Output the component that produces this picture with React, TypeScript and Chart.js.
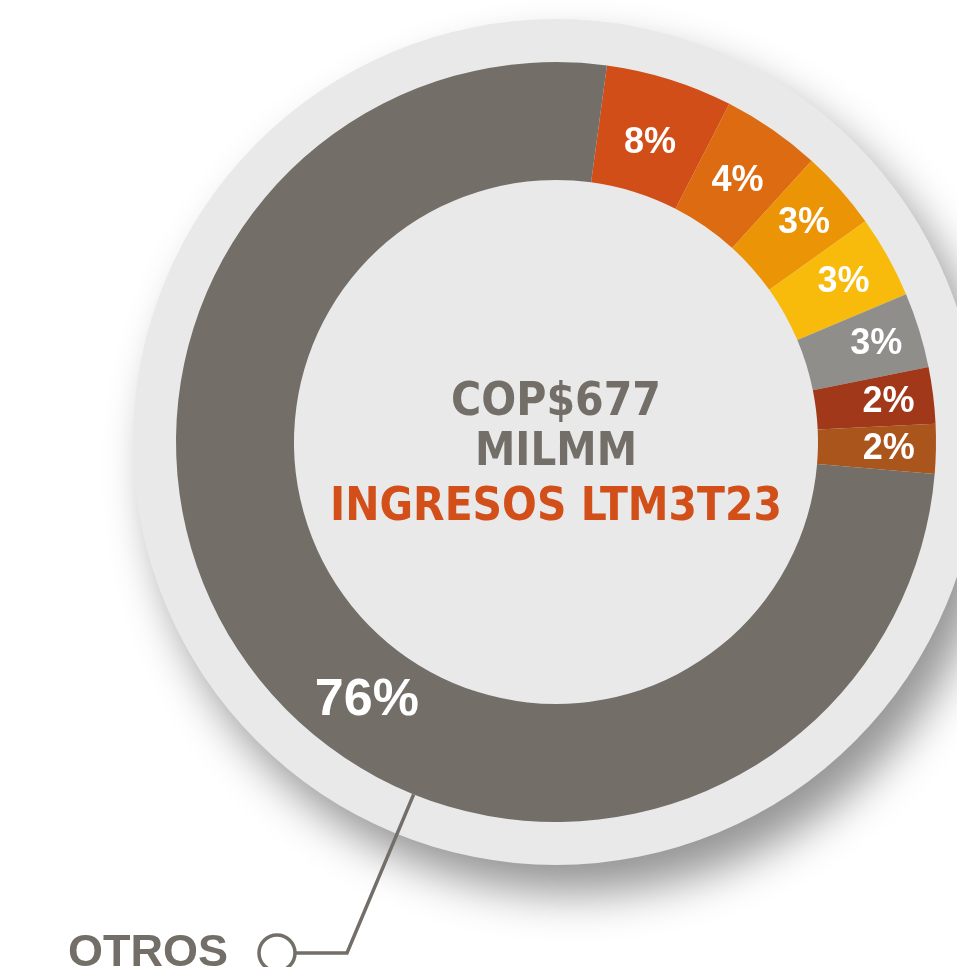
import React, { useEffect, useRef } from 'react';
import { Chart, registerables } from 'chart.js';

Chart.register(...registerables);

// ---- data ----
const categories = ['Segmento 1', 'Segmento 2', 'Segmento 3', 'Segmento 4', 'Segmento 5', 'Segmento 6', 'Segmento 7', 'OTROS'];
// shares as drawn in the picture (arc sizes)
const shareValues = [5.4, 4.2, 3.4, 3.5, 3.2, 2.4, 2.1, 75.8];
// printed percentages
const shareLabels = ['8%', '4%', '3%', '3%', '3%', '2%', '2%', '76%'];
const centerLines = ['COP$677', 'MILMM', 'INGRESOS LTM3T23'];
const calloutLabel = 'OTROS';

// ---- styles ----
const sliceColors = ['#d24e18', '#dc6b12', '#eb9406', '#f8bb0c', '#8f8e8b', '#a1381a', '#a9551c', '#736e68'];
const labelRadialFrac = [0.44, 0.48, 0.59, 0.57, 0.62, 0.62, 0.6, 0.49];
const FONT = '"Liberation Sans", Arial, Helvetica, sans-serif';
const CENTER_FONT = '"DejaVu Sans", "Liberation Sans", Arial, sans-serif';
const GREY_TEXT = '#736e68';
const ORANGE_TEXT = '#d24f1a';

const decorPlugin = {
  id: 'decor',
  beforeDatasetsDraw(chart: any) {
    const { ctx, chartArea } = chart;
    const cx = (chartArea.left + chartArea.right) / 2;
    const cy = (chartArea.top + chartArea.bottom) / 2;
    const arc = chart.getDatasetMeta(0).data[0];
    const R = arc.outerRadius * 1.113;
    ctx.save();
    ctx.shadowColor = 'rgba(0,0,0,0.42)';
    ctx.shadowBlur = 45;
    ctx.shadowOffsetX = 18;
    ctx.shadowOffsetY = 28;
    ctx.fillStyle = '#e9e9e9';
    ctx.beginPath();
    ctx.arc(cx, cy, R, 0, Math.PI * 2);
    ctx.fill();
    ctx.restore();
  },
  afterDatasetsDraw(chart: any) {
    const { ctx, chartArea } = chart;
    const cx = (chartArea.left + chartArea.right) / 2;
    const cy = (chartArea.top + chartArea.bottom) / 2;
    const meta = chart.getDatasetMeta(0);
    ctx.save();
    // slice labels
    meta.data.forEach((el: any, i: number) => {
      const { startAngle, endAngle, innerRadius, outerRadius, x, y } = el.getProps(
        ['startAngle', 'endAngle', 'innerRadius', 'outerRadius', 'x', 'y'],
        true
      );
      const big = i === meta.data.length - 1;
      const mid = (startAngle + endAngle) / 2 + (big ? (-15 * Math.PI) / 180 : 0);
      const r = innerRadius + (outerRadius - innerRadius) * labelRadialFrac[i];
      ctx.fillStyle = '#ffffff';
      ctx.font = `bold ${big ? 52 : 36}px ${FONT}`;
      ctx.textAlign = 'center';
      ctx.textBaseline = 'middle';
      ctx.fillText(shareLabels[i], x + r * Math.cos(mid), y + r * Math.sin(mid) + 1);
    });

    // center text (wide heavy face, slightly stretched vertically)
    const drawCenter = (text: string, baseY: number, color: string, targetW: number) => {
      ctx.save();
      ctx.font = `bold 40px ${CENTER_FONT}`;
      const w = ctx.measureText(text).width;
      const sx = targetW / w;
      ctx.translate(cx, baseY);
      ctx.scale(sx, 1.14);
      ctx.textAlign = 'center';
      ctx.textBaseline = 'alphabetic';
      ctx.fillStyle = color;
      ctx.fillText(text, 0, 0);
      ctx.restore();
    };
    drawCenter(centerLines[0], cy - 27, GREY_TEXT, 210);
    drawCenter(centerLines[1], cy + 23, GREY_TEXT, 162);
    drawCenter(centerLines[2], cy + 78, ORANGE_TEXT, 452);

    // callout for OTROS
    const last = meta.data[meta.data.length - 1];
    const a = (112 * Math.PI) / 180;
    const sx = cx + last.outerRadius * Math.cos(a);
    const sy = cy + last.outerRadius * Math.sin(a);
    const elbowX = cx - 209;
    const elbowY = cy + 511;
    const circX = cx - 279;
    const circR = 18;
    ctx.strokeStyle = GREY_TEXT;
    ctx.lineWidth = 3.5;
    ctx.beginPath();
    ctx.moveTo(sx, sy);
    ctx.lineTo(elbowX, elbowY);
    ctx.lineTo(circX + circR, elbowY);
    ctx.stroke();
    ctx.fillStyle = '#ffffff';
    ctx.beginPath();
    ctx.arc(circX, elbowY, circR, 0, Math.PI * 2);
    ctx.fill();
    ctx.stroke();
    ctx.fillStyle = GREY_TEXT;
    ctx.font = `bold 45px ${FONT}`;
    ctx.textAlign = 'right';
    ctx.textBaseline = 'alphabetic';
    ctx.fillText(calloutLabel, circX - 49, elbowY + 13);
    ctx.restore();
  },
};

export default function App() {
  const ref = useRef<HTMLCanvasElement | null>(null);
  useEffect(() => {
    if (!ref.current) return;
    const chart = new Chart(ref.current, {
      type: 'doughnut',
      data: {
        labels: categories,
        datasets: [
          {
            data: shareValues,
            backgroundColor: sliceColors,
            borderWidth: 0,
            hoverOffset: 0,
          },
        ],
      },
      options: {
        responsive: false,
        animation: false,
        rotation: 7.7,
        radius: 380,
        cutout: 262,
        layout: { padding: { left: 176, top: 62, right: 21, bottom: 145 } },
        plugins: {
          legend: { display: false },
          tooltip: { enabled: false },
        },
        events: [],
      },
      plugins: [decorPlugin],
    });
    return () => chart.destroy();
  }, []);
  return (
    <div style={{ position: 'absolute', left: 0, top: 0, width: 957, height: 967, overflow: 'hidden', background: '#ffffff' }}>
      <canvas ref={ref} width={957} height={967} style={{ display: 'block' }} />
    </div>
  );
}
